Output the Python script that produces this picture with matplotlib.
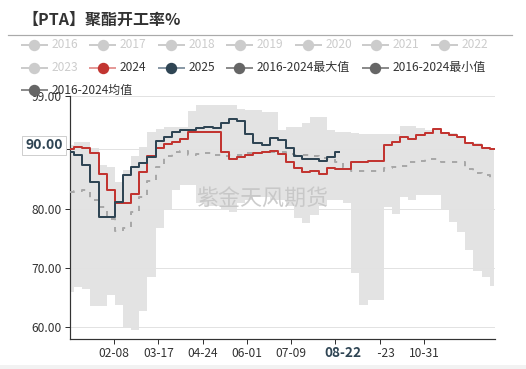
import matplotlib
matplotlib.use('Agg')
import matplotlib.pyplot as plt
import numpy as np
import pandas as pd
from matplotlib.lines import Line2D
from matplotlib.patches import Rectangle

plt.rcParams['font.family'] = ['Noto Sans CJK SC', 'DejaVu Sans']

# ---------------- data ----------------
title = '【PTA】聚酯开工率%'
legend_names = ['2016', '2017', '2018', '2019', '2020', '2021', '2022',
                '2023', '2024', '2025', '2016-2024最大值', '2016-2024最小值',
                '2016-2024均值']
year_start = '2024-01-01'

s2024 = [90.1, 90.4, 90.2, 89.4, 85.9, 83.2, 80.9, 81.0, 82.4, 86.2,
         88.8, 90.2, 90.9, 91.3, 91.8, 92.9, 93.0, 93.0, 93.0, 89.5,
         88.4, 88.7, 89.0, 89.4, 89.5, 89.8, 89.2, 87.9, 86.8, 86.1,
         86.3, 85.8, 86.9, 86.6, 86.6, 87.9, 87.9, 88.1, 88.0, 90.8,
         91.2, 92.1, 91.8, 92.5, 92.8, 93.4, 92.8, 92.5, 92.1, 91.1,
         90.8, 90.3, 90.1]
s2025 = [89.5, 89.0, 87.3, 84.5, 78.6, 78.6, 81.1, 85.6, 87.0, 87.7,
         88.7, 91.4, 92.0, 92.9, 93.2, 93.3, 93.6, 93.8, 93.6, 94.4,
         95.2, 94.8, 92.6, 91.0, 90.8, 91.9, 91.5, 90.3, 88.8, 88.3,
         88.4, 88.1, 88.7, 89.5]
s_max = [90.7, 91.3, 91.3, 90.2, 87.3, 87.0, 84.5, 86.5, 88.8, 90.4,
         92.9, 93.5, 93.7, 93.8, 93.8, 96.5, 97.4, 97.4, 97.4, 97.4,
         97.4, 96.8, 96.6, 96.6, 96.3, 96.3, 93.2, 93.7, 93.8, 94.4,
         95.4, 95.4, 93.2, 93.0, 92.9, 92.8, 92.6, 92.6, 92.6, 92.6,
         92.6, 93.9, 93.9, 93.6, 93.2, 93.6, 93.0, 92.8, 92.3, 91.3,
         91.0, 90.4, 90.2]
s_min = [66.0, 66.85, 66.5, 63.6, 63.6, 65.5, 63.8, 59.9, 59.6, 62.8,
         68.5, 76.7, 80.0, 83.1, 83.9, 83.9, 81.0, 80.5, 80.5, 80.0,
         79.5, 81.0, 81.5, 82.0, 82.0, 81.5, 81.5, 80.5, 78.4, 77.6,
         78.9, 80.5, 81.5, 81.5, 81.0, 69.2, 63.8, 64.5, 64.5, 80.2,
         79.1, 82.0, 81.5, 82.3, 82.3, 82.3, 79.7, 77.8, 76.1, 73.0,
         69.4, 68.5, 66.9]
s_mean = [82.8, 82.9, 83.2, 81.5, 80.2, 78.3, 76.2, 76.8, 79.5, 82.0,
          84.6, 87.0, 88.8, 89.5, 89.7, 89.1, 89.2, 89.4, 89.0, 88.9,
          89.0, 89.0, 89.3, 89.4, 89.5, 89.6, 89.5, 89.2, 89.0, 89.0,
          88.8, 88.6, 88.3, 87.9, 86.8, 86.4, 86.3, 86.3, 86.4, 86.8,
          87.0, 87.2, 87.9, 88.0, 88.3, 88.3, 87.8, 87.9, 87.9, 86.7,
          86.0, 85.6, 84.8]
ytick_vals = [60, 70, 80, 90, 99]
xtick_labels = ['02-08', '03-17', '04-24', '06-01', '07-09', '08-16',
                '09-23', '10-31']
pointer_date = '08-22'
pointer_value = 90.00
watermark = '紫金天风期货'

# ---------------- helpers ----------------
W, H = 526, 369
PT = 0.72  # points per pixel at dpi 100
start = pd.Timestamp(year_start)


def day_of(label):
    return (pd.Timestamp(f'{start.year}-{label}') - start).days


def week_days(n):
    return [(d - start).days for d in pd.date_range(start, periods=n, freq='7D')]


def fx(px):
    return px / W


def fy(py):
    return 1 - py / H


fig = plt.figure(figsize=(W / 100, H / 100), dpi=100, facecolor='white')
ax = fig.add_axes([fx(70), fy(339), 425 / W, 243 / H])
ax.set_xlim(0, 365)
ax.set_ylim(58, 99)

# band
d_all = week_days(len(s_max))
ax.fill_between(d_all, s_min, s_max, step='mid', color='#e3e3e3', lw=0, zorder=1)

# grid
for v in ytick_vals:
    ax.axhline(v, color='#e2e2e2', lw=1 * PT, zorder=1.2)

# watermark
ax.text(0.452, 0.572, watermark, transform=ax.transAxes, fontsize=22 * PT,
        color='#c4c4c4', alpha=0.85, ha='center', va='center', zorder=2)

# series
ax.plot(d_all, s_mean, drawstyle='steps-mid', color='#a8a8a8', lw=2 * PT,
        dashes=(2.6, 3.4), zorder=3)
ax.plot(d_all, s2024, drawstyle='steps-mid', color='#c23531', lw=2 * PT, zorder=4)
ax.plot(week_days(len(s2025)), s2025, drawstyle='steps-mid', color='#2f4554',
        lw=2 * PT, zorder=5)

# axes styling
for side in ['top', 'right']:
    ax.spines[side].set_visible(False)
for side in ['left', 'bottom']:
    ax.spines[side].set_color('#333333')
    ax.spines[side].set_linewidth(1.2 * PT)

pd_day = day_of(pointer_date)
ax.set_yticks(ytick_vals)
# labels hidden under the axis-pointer labels are left blank
ax.set_yticklabels(['' if v == pointer_value else f'{v:.2f}' for v in ytick_vals])
xt = [day_of(l) for l in xtick_labels]
ax.set_xticks(xt)
ax.set_xticklabels(['' if abs(d - pd_day) < 10 else l
                    for d, l in zip(xt, xtick_labels)])
ax.tick_params(axis='both', length=5 * PT, width=1 * PT, color='#333333',
               labelsize=12 * PT, labelcolor='#333333')
ax.tick_params(axis='y', pad=2.5)
ax.tick_params(axis='x', pad=2.5)

# axis pointer labels
ax.add_patch(Rectangle((pd_day - 30, -0.115), 60, 0.09,
                       transform=ax.get_xaxis_transform(), clip_on=False,
                       facecolor='white', edgecolor='none', zorder=10))
ax.annotate(pointer_date, xy=(pd_day, 0), xycoords=ax.get_xaxis_transform(),
            xytext=(0, -14 * PT), textcoords='offset points', ha='center',
            va='center', fontsize=13.5 * PT, fontweight='bold', color='#2f4554',
            zorder=11, annotation_clip=False)
ax.annotate(f'{pointer_value:.2f}', xy=(0, pointer_value),
            xycoords=ax.get_yaxis_transform(), xytext=(-26 * PT, 4 * PT),
            textcoords='offset points', ha='center', va='center',
            fontsize=14 * PT, fontweight='bold', color='#2f4554', zorder=11,
            annotation_clip=False,
            bbox=dict(boxstyle='square,pad=0.2', fc='white', ec='#cfcfcf',
                      lw=1 * PT))

# title + underline
fig.text(fx(22), fy(20), title, fontsize=11.5, fontweight='bold',
         color='#333333', ha='left', va='center')
fig.add_artist(Line2D([fx(8), fx(512)], [fy(35), fy(35)], color='#aaaaaa',
                      lw=1.2 * PT))

# legend
icon_x = [21.5, 90, 158.5, 227, 295.5, 363, 431.5,
          21.5, 90, 158.5, 226.5, 362.5,
          21.5]
icon_y = [45] * 7 + [67.5] * 5 + [90]
styles = {
    '2024': ('#e59a98', '#c23531', '#333333'),
    '2025': ('#8a99a6', '#2f4554', '#333333'),
    '2016-2024最大值': ('#8c8c8c', '#666666', '#333333'),
    '2016-2024最小值': ('#8c8c8c', '#666666', '#333333'),
    '2016-2024均值': ('#8c8c8c', '#666666', '#333333'),
}
for name, x0, y0 in zip(legend_names, icon_x, icon_y):
    lc, mc, tc = styles.get(name, ('#cccccc', '#cccccc', '#cccccc'))
    fig.add_artist(Line2D([fx(x0), fx(x0 + 25)], [fy(y0), fy(y0)], color=lc,
                          lw=2 * PT, zorder=20))
    fig.add_artist(Line2D([fx(x0 + 12.5)], [fy(y0)], marker='o',
                          markersize=10 * PT, color=mc, lw=0, zorder=21))
    fig.text(fx(x0 + 30), fy(y0), name, fontsize=12 * PT, color=tc,
             ha='left', va='center', zorder=22)

# bottom strip
fig.patches.append(Rectangle((0, 0), 1, 4 / H, transform=fig.transFigure,
                             facecolor='#f2f2f2', edgecolor='none'))

fig.savefig('out.png', dpi=100, facecolor='white')
